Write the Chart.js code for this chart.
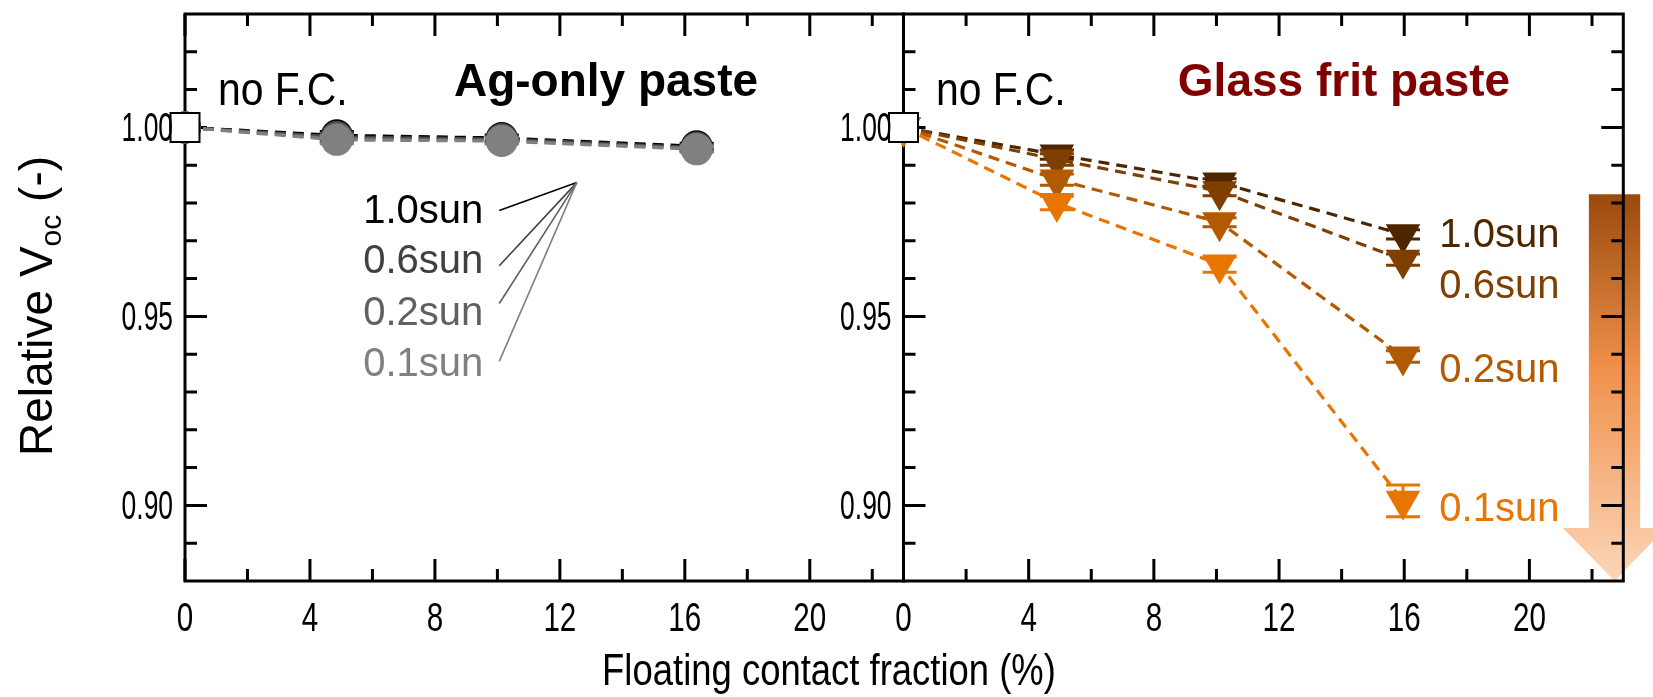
<!DOCTYPE html>
<html>
<head>
<meta charset="utf-8">
<script src="https://cdn.jsdelivr.net/npm/chart.js@4.4.1/dist/chart.umd.min.js"></script>
<style>
  html, body { margin: 0; padding: 0; background: #fff; }
  #wrap { position: relative; width: 1653px; height: 697px; overflow: hidden; }
  canvas { position: absolute; left: 0; top: 0; }
</style>
</head>
<body>
<div id="wrap">
  <canvas id="left" width="1653" height="697"></canvas>
  <canvas id="right" width="1653" height="697"></canvas>
</div>
<script>
// ---- data ----
const sunLabels = ['1.0sun', '0.6sun', '0.2sun', '0.1sun'];

// Ag-only paste (left panel)
const agFraction = [0, 4.86, 10.14, 16.38];
const agVoc10 = [1.000, 0.9979, 0.9972, 0.9950];
const agVoc06 = [1.000, 0.9975, 0.9969, 0.9947];
const agVoc02 = [1.000, 0.9971, 0.9966, 0.9944];
const agVoc01 = [1.000, 0.9967, 0.9964, 0.9942];
const agErr = [0, 0.0010, 0.0008, 0.0008];

// Glass frit paste (right panel)
const gfFraction = [0, 4.9, 10.1, 15.96];
const gfVoc10 = [1.000, 0.9928, 0.9854, 0.9717];
const gfVoc06 = [1.000, 0.9915, 0.9831, 0.9650];
const gfVoc02 = [1.000, 0.9862, 0.9749, 0.9394];
const gfVoc01 = [1.000, 0.9800, 0.9637, 0.9012];
const gfErr10 = [0, 0.0012, 0.0010, 0.0012];
const gfErr06 = [0, 0.0015, 0.0012, 0.0015];
const gfErr02 = [0, 0.0015, 0.0012, 0.0015];
const gfErr01 = [0, 0.0018, 0.0020, 0.0042];

// axes
const xMajorTicks = [0, 4, 8, 12, 16, 20];
const xTickLabels = ['0', '4', '8', '12', '16', '20'];
const xMinorTicks = [2, 6, 10, 14, 18, 22];
const yMajorTicks = [0.90, 0.95, 1.00];
const yTickLabels = ['0.90', '0.95', '1.00'];
const yMinorTicks = [0.89, 0.91, 0.92, 0.93, 0.94, 0.96, 0.97, 0.98, 0.99, 1.01, 1.02];

const grayColors = ['#000000', '#404040', '#606060', '#808080'];
const brownColors = ['#4d2600', '#7f3f00', '#b35900', '#e87500'];

const SANS = "'Liberation Sans', Arial, Helvetica, sans-serif";
const MAJOR = 22, MINOR = 12;
// the original uses a condensed Helvetica for axis text; squeeze horizontally
const X_SQUEEZE = 0.74, Y_SQUEEZE = 0.66;

Chart.defaults.font.family = SANS;
Chart.defaults.color = '#000';

function pts(xs, ys) {
    return xs.map((x, i) => ({ x: x, y: ys[i] }));
}

function series(label, xs, ys, errs, color, style, radius) {
    return {
        label: label,
        data: pts(xs, ys),
        errors: errs,
        showLine: true,
        borderColor: color,
        borderWidth: 3.2,
        borderDash: [11, 7],
        pointStyle: style,
        rotation: style === 'triangle' ? 180 : 0,
        pointRadius: radius,
        pointBackgroundColor: color,
        pointBorderColor: color,
        pointBorderWidth: 0,
        clip: false
    };
}

function refSquare() {
    return {
        label: 'no F.C.',
        data: [{ x: 0, y: 1.0 }],
        showLine: false,
        pointStyle: 'rect',
        pointRadius: 20.5,
        pointBackgroundColor: '#ffffff',
        pointBorderColor: '#000000',
        pointBorderWidth: 2,
        clip: false
    };
}

// error bars drawn just before each dataset so layering follows the datasets
const errorBars = {
    id: 'errorBars',
    beforeDatasetDraw(chart, args) {
        const ds = chart.data.datasets[args.index];
        if (!ds.errors) return;
        const { ctx, scales: { x, y } } = chart;
        ctx.save();
        ctx.strokeStyle = ds.borderColor;
        ctx.lineWidth = 3;
        ds.data.forEach((p, i) => {
            const e = ds.errors[i];
            if (!e) return;
            const px = x.getPixelForValue(p.x);
            const hi = y.getPixelForValue(p.y + e);
            const lo = y.getPixelForValue(p.y - e);
            ctx.beginPath();
            ctx.moveTo(px, hi); ctx.lineTo(px, lo);
            ctx.moveTo(px - 17, hi); ctx.lineTo(px + 17, hi);
            ctx.moveTo(px - 17, lo); ctx.lineTo(px + 17, lo);
            ctx.stroke();
        });
        ctx.restore();
    }
};

function text(ctx, str, x, y, font, color, align, base, sx) {
    ctx.save();
    ctx.font = font;
    ctx.fillStyle = color;
    ctx.textAlign = align || 'left';
    ctx.textBaseline = base || 'alphabetic';
    ctx.translate(x, y);
    if (sx) ctx.scale(sx, 1);
    ctx.fillText(str, 0, 0);
    ctx.restore();
}

function drawFrame(chart, rightTicks) {
    const { ctx, chartArea: a, scales: { x, y } } = chart;
    ctx.save();
    ctx.strokeStyle = '#000';
    ctx.lineWidth = 3;
    ctx.beginPath();
    xMajorTicks.concat(xMinorTicks).forEach(v => {
        const px = x.getPixelForValue(v);
        const len = xMajorTicks.includes(v) ? MAJOR : MINOR;
        ctx.moveTo(px, a.bottom); ctx.lineTo(px, a.bottom - len);
        ctx.moveTo(px, a.top); ctx.lineTo(px, a.top + len);
    });
    yMajorTicks.concat(yMinorTicks).forEach(v => {
        const py = y.getPixelForValue(v);
        const len = yMajorTicks.includes(v) ? MAJOR : MINOR;
        ctx.moveTo(a.left, py); ctx.lineTo(a.left + len, py);
        if (rightTicks) { ctx.moveTo(a.right, py); ctx.lineTo(a.right - len, py); }
    });
    ctx.stroke();
    ctx.strokeRect(a.left, a.top, a.right - a.left, a.bottom - a.top);
    ctx.restore();
}

function drawTickLabels(chart) {
    const { ctx, chartArea: a, scales: { x, y } } = chart;
    const f = `40px ${SANS}`;
    xMajorTicks.forEach((v, i) => {
        text(ctx, xTickLabels[i], x.getPixelForValue(v), a.bottom + 50, f, '#000', 'center', 'alphabetic', X_SQUEEZE);
    });
    yMajorTicks.forEach((v, i) => {
        text(ctx, yTickLabels[i], a.left - 12, y.getPixelForValue(v) + 14, f, '#000', 'right', 'alphabetic', Y_SQUEEZE);
    });
}

function scalesFor(yWidth) {
    return {
        x: {
            type: 'linear', min: 0, max: 23,
            afterBuildTicks: ax => { ax.ticks = xMajorTicks.map(v => ({ value: v })); },
            afterFit: s => { s.height = 116; s.paddingLeft = 0; s.paddingRight = 0; },
            ticks: { display: false },
            grid: { display: false, drawTicks: false },
            border: { display: false }
        },
        y: {
            type: 'linear', min: 0.88, max: 1.03,
            afterBuildTicks: ax => { ax.ticks = yMajorTicks.map(v => ({ value: v })); },
            afterFit: s => { s.width = yWidth; s.paddingTop = 0; s.paddingBottom = 0; },
            ticks: { display: false },
            grid: { display: false, drawTicks: false },
            border: { display: false }
        }
    };
}

const baseOptions = {
    responsive: false,
    animation: false,
    devicePixelRatio: 1,
    events: [],
    plugins: { legend: { display: false }, tooltip: { enabled: false } }
};

// ---- left panel: Ag-only paste ----
const leftDecor = {
    id: 'leftDecor',
    beforeDatasetsDraw(chart) { drawFrame(chart, false); },
    afterDraw(chart) {
        const { ctx, scales: { x, y } } = chart;
        drawTickLabels(chart);
        // leader lines from the labels to a common point
        const labelY = [0.9777, 0.9645, 0.9507, 0.9372];
        const leadY = [0.9780, 0.9634, 0.9534, 0.9381];
        const hubX = x.getPixelForValue(12.54), hubY = y.getPixelForValue(0.9854);
        ctx.save();
        ctx.lineWidth = 1.6;
        sunLabels.forEach((s, i) => {
            ctx.strokeStyle = grayColors[i];
            ctx.beginPath();
            ctx.moveTo(x.getPixelForValue(10.06), y.getPixelForValue(leadY[i]));
            ctx.lineTo(hubX, hubY);
            ctx.stroke();
            text(ctx, s, x.getPixelForValue(9.55), y.getPixelForValue(labelY[i]), `40px ${SANS}`, grayColors[i], 'right', 'middle');
        });
        ctx.restore();
        text(ctx, 'no F.C.', 218, 105, `47px ${SANS}`, '#000', 'left', 'alphabetic', 0.87);
        text(ctx, 'Ag-only paste', 606, 96, `bold 46px ${SANS}`, '#000', 'center');

        // y axis title with subscript
        ctx.save();
        ctx.translate(52, 306);
        ctx.rotate(-Math.PI / 2);
        ctx.font = `46px ${SANS}`;
        const w1 = ctx.measureText('Relative V').width;
        const w3 = ctx.measureText(' (-)').width;
        ctx.font = `30px ${SANS}`;
        const w2 = ctx.measureText('oc').width;
        const x0 = -(w1 + w2 + w3) / 2;
        text(ctx, 'Relative V', x0, 0, `46px ${SANS}`, '#000');
        text(ctx, 'oc', x0 + w1, 9, `30px ${SANS}`, '#000');
        text(ctx, ' (-)', x0 + w1 + w2, 0, `46px ${SANS}`, '#000');
        ctx.restore();

        text(ctx, 'Floating contact fraction (%)', 829, 685, `45px ${SANS}`, '#000', 'center', 'alphabetic', 0.81);
    }
};

new Chart(document.getElementById('left'), {
    type: 'scatter',
    data: {
        datasets: [
            refSquare(),
            series(sunLabels[3], agFraction, agVoc01, agErr, grayColors[3], 'circle', 16),
            series(sunLabels[2], agFraction, agVoc02, agErr, grayColors[2], 'circle', 16),
            series(sunLabels[1], agFraction, agVoc06, agErr, grayColors[1], 'circle', 16),
            series(sunLabels[0], agFraction, agVoc10, agErr, grayColors[0], 'circle', 16)
        ]
    },
    options: Object.assign({}, baseOptions, {
        layout: { autoPadding: false, padding: { left: 0, right: 1653 - 903.5, top: 14, bottom: 0 } },
        scales: scalesFor(185)
    }),
    plugins: [errorBars, leftDecor]
});

// ---- right panel: Glass frit paste ----
const rightDecor = {
    id: 'rightDecor',
    beforeDatasetsDraw(chart) {
        const { ctx, scales: { x, y } } = chart;
        // shaded arrow (weaker illumination downwards)
        const sL = x.getPixelForValue(21.9), sR = x.getPixelForValue(23.54);
        const wL = x.getPixelForValue(21.07), wR = x.getPixelForValue(24.36);
        const tipX = x.getPixelForValue(22.72);
        const top = y.getPixelForValue(0.9823), base = y.getPixelForValue(0.894), tip = y.getPixelForValue(0.88);
        const g = ctx.createLinearGradient(0, top, 0, tip);
        g.addColorStop(0, '#9a4a0c');
        g.addColorStop(0.45, '#f0904a');
        g.addColorStop(1, '#fcd6b8');
        ctx.save();
        ctx.fillStyle = g;
        ctx.beginPath();
        ctx.moveTo(sL, top); ctx.lineTo(sR, top); ctx.lineTo(sR, base);
        ctx.lineTo(wR, base); ctx.lineTo(tipX, tip); ctx.lineTo(wL, base);
        ctx.lineTo(sL, base); ctx.closePath();
        ctx.fill();
        ctx.restore();
        drawFrame(chart, true);
    },
    afterDraw(chart) {
        const { ctx, scales: { x, y } } = chart;
        drawTickLabels(chart);
        const labelY = [0.9714, 0.9579, 0.9356, 0.8987];
        sunLabels.forEach((s, i) => {
            text(ctx, s, x.getPixelForValue(17.12), y.getPixelForValue(labelY[i]), `40px ${SANS}`, brownColors[i], 'left', 'middle');
        });
        text(ctx, 'no F.C.', 936, 105, `47px ${SANS}`, '#000', 'left', 'alphabetic', 0.87);
        text(ctx, 'Glass frit paste', 1344, 96, `bold 46px ${SANS}`, '#800000', 'center');
    }
};

new Chart(document.getElementById('right'), {
    type: 'scatter',
    data: {
        datasets: [
            refSquare(),
            series(sunLabels[3], gfFraction, gfVoc01, gfErr01, brownColors[3], 'triangle', 20),
            series(sunLabels[2], gfFraction, gfVoc02, gfErr02, brownColors[2], 'triangle', 20),
            series(sunLabels[1], gfFraction, gfVoc06, gfErr06, brownColors[1], 'triangle', 20),
            series(sunLabels[0], gfFraction, gfVoc10, gfErr10, brownColors[0], 'triangle', 20)
        ]
    },
    options: Object.assign({}, baseOptions, {
        layout: { autoPadding: false, padding: { left: 0, right: 1653 - 1623.3, top: 14, bottom: 0 } },
        scales: scalesFor(903.5)
    }),
    plugins: [errorBars, rightDecor]
});
</script>
</body>
</html>
